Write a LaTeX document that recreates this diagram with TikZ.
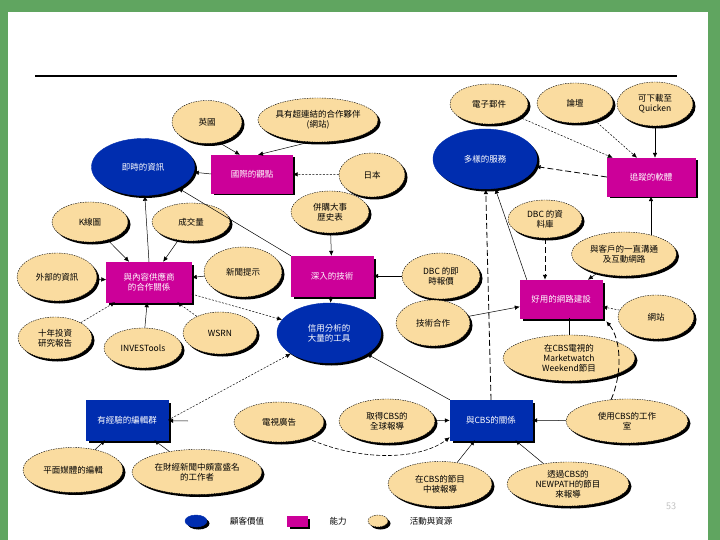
\documentclass[tikz,border=0pt]{standalone}
\usepackage{fontspec}
\newfontfamily\cjk{Noto Sans CJK TC}
\usetikzlibrary{shapes.geometric,shadows,arrows.meta,calc}
\definecolor{tanfill}{RGB}{250,220,160}
\definecolor{nodeblue}{RGB}{0,45,175}
\definecolor{nodemag}{RGB}{204,0,153}
\definecolor{framegreen}{RGB}{96,165,96}
\newcommand\lbl{\cjk\fontsize{8.5}{10}\selectfont}
\tikzset{
  shd/.style={drop shadow={shadow xshift=2.5pt,shadow yshift=-2.5pt,fill=black,opacity=1}},
  res/.style={ellipse, fill=tanfill, draw=black, dash pattern=on 1.5pt off 1pt, line width=0.4pt, shd, inner sep=0pt, align=center, font=\lbl, text=black},
  val/.style={ellipse, fill=nodeblue, draw=nodeblue, shd, inner sep=0pt, align=center, font=\lbl, text=white},
  valbox/.style={rectangle, fill=nodeblue, draw=nodeblue, shd, inner sep=0pt, align=center, font=\lbl, text=white},
  capbox/.style={rectangle, fill=nodemag, draw=nodemag, shd, inner sep=0pt, align=center, font=\lbl, text=white},
  sol/.style={draw, line width=0.5pt, -{Latex[length=5pt,width=4.5pt]}},
  dot/.style={sol, dash pattern=on 2pt off 1.5pt},
  lng/.style={sol, line width=0.8pt, dash pattern=on 6pt off 3pt},
}
\begin{document}
\begin{tikzpicture}[x=1pt,y=-1pt]
\useasboundingbox (0,0) rectangle (720,540);
\fill[white] (0,0) rectangle (720,540);
\fill[framegreen] (0,0) rectangle (8,540);
\fill[framegreen] (708,0) rectangle (720,540);
\fill[framegreen] (0,0) rectangle (720,12);
\draw[line width=1.2pt] (35,76) -- (677,76);

% top area
\node[res, minimum width=70pt, minimum height=43pt] (te1) at (207,122) {英國};
\node[res, minimum width=113pt, minimum height=44pt] (te2) at (318,120) {具有超連結的合作夥伴\\(網站)};
\node[val, minimum width=103pt, minimum height=57pt] (b1) at (143,167) {即時的資訊};
\node[capbox, minimum width=81pt, minimum height=38pt] (m1) at (252,174) {國際的觀點};
\node[res, minimum width=66pt, minimum height=44pt] (te3) at (372,175) {日本};
\node[res, minimum width=78pt, minimum height=42pt] (te4) at (330,212) {併購大事\\歷史表};
\node[val, minimum width=104pt, minimum height=60pt] (b2) at (485,159) {多樣的服務};
\node[res, minimum width=78pt, minimum height=40pt] (te5) at (489,104) {電子郵件};
\node[res, minimum width=76pt, minimum height=40pt] (te6) at (575,103) {論壇};
\node[res, minimum width=76pt, minimum height=44pt] (te7) at (655,104) {可下載至\\Quicken};
\node[capbox, minimum width=88pt, minimum height=38pt] (m2) at (651,177) {追蹤的軟體};

% middle
\node[res, minimum width=76pt, minimum height=40pt] (te8) at (90,222) {K線圖};
\node[res, minimum width=78pt, minimum height=38pt] (te9) at (191,222) {成交量};
\node[res, minimum width=80pt, minimum height=48pt] (te10) at (57,277) {外部的資訊};
\node[capbox, minimum width=85pt, minimum height=40pt] (m3) at (149,282) {與內容供應商\\的合作關係};
\node[res, minimum width=78pt, minimum height=50pt] (te11) at (243,272) {新聞提示};
\node[capbox, minimum width=82pt, minimum height=40pt] (m4) at (332,276) {深入的技術};
\node[res, minimum width=78pt, minimum height=46pt] (te12) at (441,276) {DBC 的即\\時報價};
\node[res, minimum width=74pt, minimum height=38pt] (te13) at (545,219) {DBC 的資\\料庫};
\node[res, minimum width=105pt, minimum height=44pt] (te14) at (624,254) {與客戶的一直溝通\\及互動網路};
\node[capbox, minimum width=82pt, minimum height=38pt] (m5) at (561,299) {好用的網路建設};
\node[res, minimum width=76pt, minimum height=44pt] (te15) at (656,317) {網站};
\node[res, minimum width=74pt, minimum height=46pt] (te16) at (433,323) {技術合作};
\node[res, minimum width=132pt, minimum height=46pt] (te17) at (569,358) {在CBS電視的\\Marketwatch\\Weekend節目};
\node[res, minimum width=74pt, minimum height=42pt] (te18) at (55,338) {十年投資\\研究報告};
\node[res, minimum width=78pt, minimum height=40pt] (te19) at (143,348) {INVESTools};
\node[res, minimum width=74pt, minimum height=42pt] (te20) at (220,333) {WSRN};
\node[val, minimum width=104pt, minimum height=60pt] (b3) at (329,333) {信用分析的\\大量的工具};

% bottom
\node[valbox, minimum width=82pt, minimum height=40pt] (b4) at (127,420) {有經驗的編輯群};
\node[res, minimum width=90pt, minimum height=40pt] (te21) at (279,422) {電視廣告};
\node[res, minimum width=96pt, minimum height=44pt] (te22) at (387,421) {取得CBS的\\全球報導};
\node[valbox, minimum width=82pt, minimum height=40pt] (b5) at (491,420) {與CBS的關係};
\node[res, minimum width=122pt, minimum height=44pt] (te23) at (627,421) {使用CBS的工作\\室};
\node[res, minimum width=100pt, minimum height=45pt] (te24) at (73,470) {平面媒體的編輯};
\node[res, minimum width=130pt, minimum height=45pt] (te25) at (197,472) {在財經新聞中頗富盛名\\的工作者};
\node[res, minimum width=104pt, minimum height=45pt] (te26) at (440,484) {在CBS的節目\\中被報導};
\node[res, minimum width=122pt, minimum height=44pt] (te27) at (568,484) {透過CBS的\\NEWPATH的節目\\來報導};

% legend
\node[val, minimum width=22pt, minimum height=12pt] (lg1) at (196,521) {};
\node[font=\lbl] (lt1) at (247,521) {顧客價值};
\node[capbox, minimum width=20pt, minimum height=10pt] (lg2) at (297,521) {};
\node[font=\lbl] (lt2) at (338,521) {能力};
\node[res, minimum width=20pt, minimum height=12pt] (lg3) at (378,521) {};
\node[font=\lbl] (lt3) at (431,521) {活動與資源};
\node[text=black!25, font=\fontsize{10}{12}\selectfont\sffamily] (pg) at (671,506) {53};

% connectors
\draw[sol] (te1.-60) -- ([xshift=-12pt]m1.north);
\draw[sol] (te2.-110) -- ([xshift=6pt]m1.north);
\draw[sol] (m1.west) -- (b1);
\draw[dot] (te3) -- (m1);
\draw[sol] (m4.north west) -- (b1);
\draw[sol] (m3.north) -- (b1);
\draw[sol] (te8) -- (m3);
\draw[sol] (te9) -- (m3);
\draw[sol] (te10) -- (m3);
\draw[sol] (te11) -- (m3);
\draw[dot] (te18) -- (m3);
\draw[sol] (te19) -- (m3);
\draw[dot] (te20) -- (m3);
\draw[dot] (m3) -- (b3);
\draw[sol] (te4) -- (m4);
\draw[sol] (m4) -- (b3);
\draw[sol] (te12) -- (m4);
\draw[sol] (b5.north west) -- (b3);
\draw[dot] (b4.east) -- (b3);
\draw[sol] (te16) -- (m5);
\draw[lng] (te13.south) -- (te13.south |- m5.north);
\draw[sol] (te14) -- (m5);
\draw[sol] ($(m2.south |- te14.north)+(0,3)$) -- (m2.south);
\draw[dot] (te15) -- (m5);
\draw[line width=0.5pt] (te17.north) -- (te17.north |- m5.south);
\draw[sol] ([xshift=7pt]m5.north west) -- (b2);
\draw[lng] (b5.north) -- (b2);
\draw[lng] (m2.west) -- (b2);
\draw[dot] (te5) -- ([xshift=6pt]m2.north west);
\draw[dot] (te6) -- ([xshift=-14pt]m2.north);
\draw[sol] (te7.south) -- (te7.south |- m2.north);
\draw[lng] ($(te23.north)+(-16,1)$) .. controls (622,375) and (622,340) .. ($(m5.south east)+(4,3)$);
\draw[sol] (te22) -- (b5);
\draw[sol] (te23) -- (b5);
\draw[sol, line width=0.6pt, dash pattern=on 4pt off 2pt] (te21.-30) .. controls (360,462) and (420,460) .. ($(b5.south west)+(0,-3)$);
\draw[sol] (te26) -- (b5);
\draw[sol] (te27) -- (b5);
\coordinate (c1) at (188,421);
\draw[sol] (c1) -- (b4);
\draw[sol] (te24) -- (b4);
\draw[sol] (te25) -- (b4);
\end{tikzpicture}
\end{document}
